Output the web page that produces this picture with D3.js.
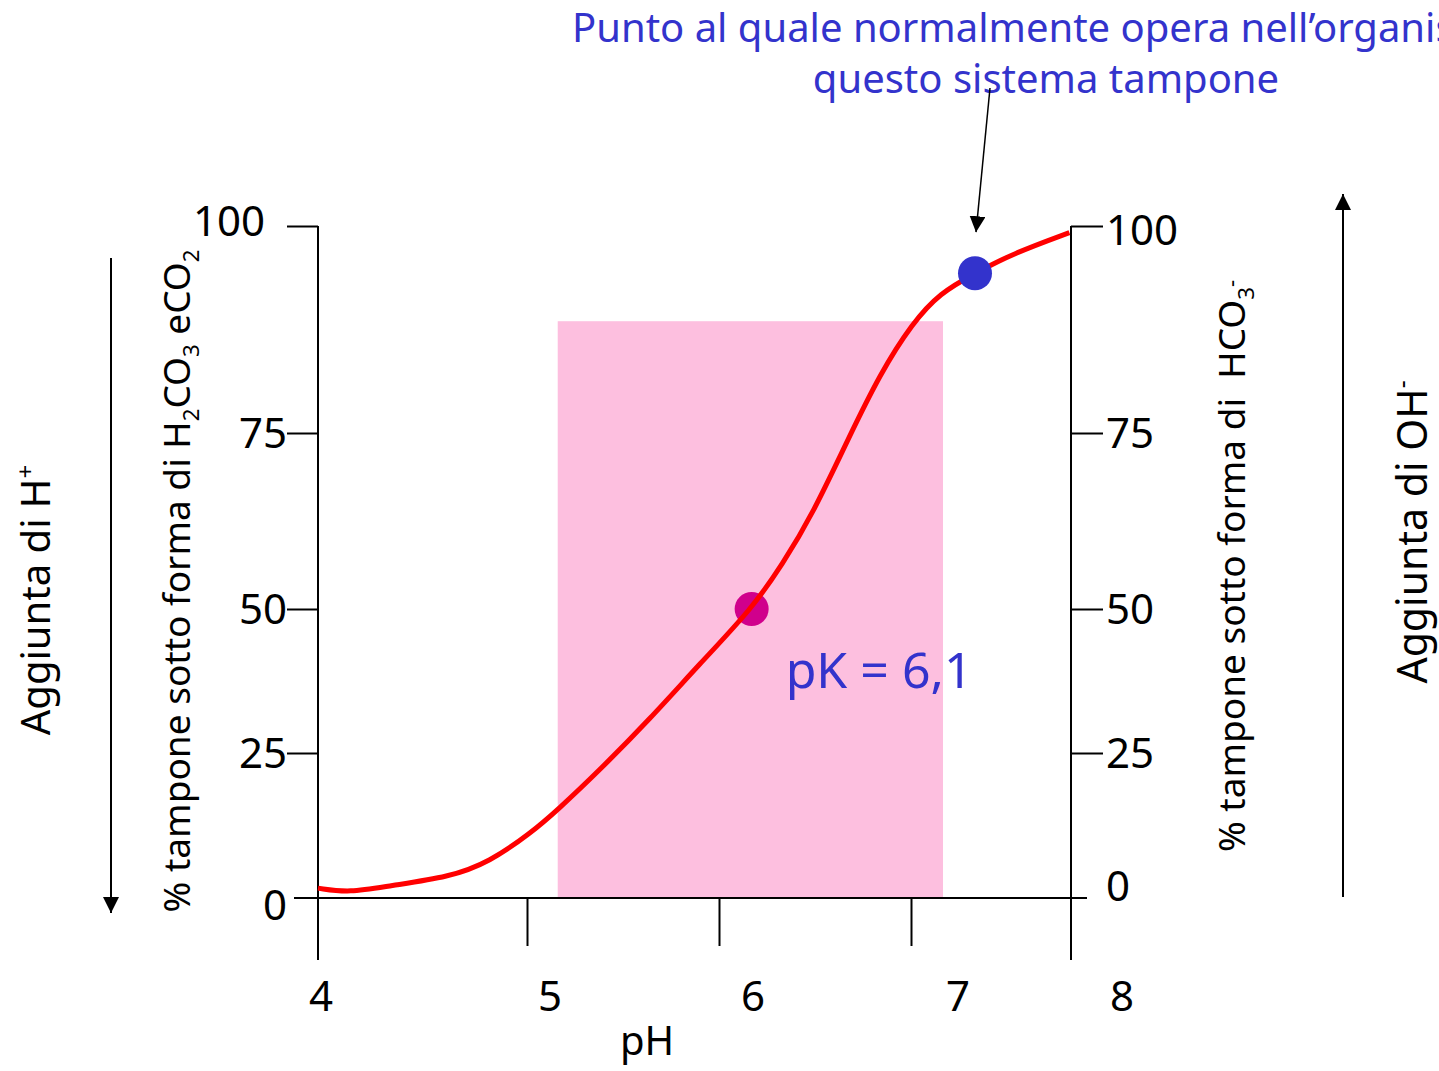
<!DOCTYPE html>
<html>
<head>
<meta charset="utf-8">
<script src="https://cdn.jsdelivr.net/npm/d3@7"></script>
<style>
  body { margin: 0; background: #fff; }
  text { font-family: "Comic Sans MS", "Noto Sans", sans-serif; }
</style>
</head>
<body>
<svg id="svg1"></svg>
<script>
// values (pH, % of buffer)
var phValues  = [4.00, 4.15, 4.34, 4.63, 4.82, 5.02, 5.16, 5.38, 5.64, 5.90, 6.17, 6.33, 6.49, 6.67, 6.84, 7.01, 7.18, 7.40, 7.64, 7.99];
var pctValues = [1.7, 0.9, 2.1, 3.6, 6.2, 11.2, 15.2, 22.1, 30.9, 40.5, 50.0, 56.3, 63.6, 74.0, 82.2, 88.3, 91.9, 94.3, 96.7, 99.2];
var pkPoint = [6.17, 50];            // pK = 6,1
var bodyPoint = [7.40, 94.3];        // normal working point
var bufferZone = [5.16, 7.20, 88.5]; // pH from, pH to, top %
var xTicks = [4, 5, 6, 7, 8];
var yTicks = [0, 25, 50, 75, 100];

var width = 1439, height = 1071;
var svg = d3.select("#svg1").attr("width", width).attr("height", height);

// the drawing is not evenly spaced, so piecewise scales
var x = d3.scaleLinear().domain(xTicks).range([318, 527, 719, 911, 1071]);
var xLab = d3.scaleLinear().domain(xTicks).range([321, 550, 753, 958, 1122]);
var y = d3.scaleLinear().domain(yTicks).range([898, 753, 609, 433, 226]);

var blue = "#3333cc";

svg.append("defs").selectAll("marker")
    .data(["arrow"])
    .join("marker")
    .attr("id", d => d)
    .attr("viewBox", "0 0 10 10")
    .attr("refX", 10).attr("refY", 5)
    .attr("markerUnits", "userSpaceOnUse")
    .attr("markerWidth", 16).attr("markerHeight", 16)
    .attr("orient", "auto")
    .append("path").attr("d", "M0,0L10,5L0,10Z").attr("fill", "#000");

// pink buffer zone
svg.append("rect")
    .attr("x", x(bufferZone[0]))
    .attr("y", y(bufferZone[2]))
    .attr("width", x(bufferZone[1]) - x(bufferZone[0]))
    .attr("height", y(0) - y(bufferZone[2]))
    .attr("fill", "#fdbfdf");

// left axis
var axL = svg.append("g")
    .attr("transform", "translate(" + x(4) + ",0)")
    .call(d3.axisLeft(y).tickValues(yTicks).tickSize(31).tickPadding(0).tickSizeOuter(0));
axL.select(".domain").remove();
axL.selectAll(".tick line").attr("stroke-width", 2).filter(d => d === 0).remove();
axL.selectAll(".tick text")
    .style("font-size", "42px").attr("fill", "#000")
    .attr("dy", d => d === 0 ? "0.5em" : d === 100 ? "0.22em" : "0.35em")
    .attr("x", d => d === 100 ? -53 : -31);

// right axis
var axR = svg.append("g")
    .attr("transform", "translate(" + x(8) + ",0)")
    .call(d3.axisRight(y).tickValues(yTicks).tickSize(32).tickPadding(3).tickSizeOuter(0));
axR.select(".domain").remove();
axR.selectAll(".tick line").attr("stroke-width", 2).filter(d => d === 0).remove();
axR.selectAll(".tick text")
    .style("font-size", "42px").attr("fill", "#000")
    .attr("dy", d => d === 0 ? "0.05em" : d === 100 ? "0.45em" : "0.35em");

// vertical frame lines (go below 0 like the original)
svg.selectAll("line.frame")
    .data([4, 8])
    .join("line")
    .attr("class", "frame")
    .attr("x1", d => x(d)).attr("x2", d => x(d))
    .attr("y1", y(100)).attr("y2", y(0) + 62)
    .attr("stroke", "#000").attr("stroke-width", 2);

// bottom axis
var axB = svg.append("g")
    .attr("transform", "translate(0," + y(0) + ")")
    .call(d3.axisBottom(x).tickValues([5, 6, 7]).tickSize(48).tickFormat("").tickSizeOuter(0));
axB.select(".domain").remove();
axB.selectAll(".tick line").attr("stroke-width", 2);
svg.append("line")
    .attr("x1", x(4) - 24).attr("x2", x(8) + 16)
    .attr("y1", y(0)).attr("y2", y(0))
    .attr("stroke", "#000").attr("stroke-width", 2);

svg.selectAll("text.xlab")
    .data(xTicks)
    .join("text")
    .attr("class", "xlab")
    .attr("x", d => xLab(d))
    .attr("y", y(0) + 113)
    .attr("text-anchor", "middle")
    .style("font-size", "42px")
    .text(d => d);

svg.append("text")
    .attr("x", 647).attr("y", y(0) + 157)
    .attr("text-anchor", "middle")
    .style("font-size", "40px")
    .text("pH");

// pK point, curve, working point
svg.append("circle")
    .attr("cx", x(pkPoint[0])).attr("cy", y(pkPoint[1]))
    .attr("r", 17).attr("fill", "#d0008c");

var lineData = phValues.map((p, i) => [p, pctValues[i]]);
svg.append("path")
    .datum(lineData)
    .attr("d", d3.line().x(d => x(d[0])).y(d => y(d[1])).curve(d3.curveBasis))
    .attr("fill", "none")
    .attr("stroke", "#ff0000")
    .attr("stroke-width", 5);

svg.append("circle")
    .attr("cx", x(bodyPoint[0])).attr("cy", y(bodyPoint[1]))
    .attr("r", 17).attr("fill", blue);

svg.append("text")
    .attr("x", x(pkPoint[0]) + 34).attr("y", y(pkPoint[1]) + 79)
    .attr("fill", blue)
    .style("font-size", "50px")
    .text("pK = 6,1");

// annotation at the top
var note = svg.append("text")
    .attr("fill", blue)
    .style("font-size", "40px");
note.append("tspan").attr("x", 572).attr("y", 42)
    .text("Punto al quale normalmente opera nell\u2019organismo");
note.append("tspan").attr("x", 1046).attr("y", 93).attr("text-anchor", "middle")
    .text("questo sistema tampone");

svg.append("line")
    .attr("x1", 990).attr("y1", 88)
    .attr("x2", x(bodyPoint[0]) + 1).attr("y2", y(bodyPoint[1]) - 41)
    .attr("stroke", "#000").attr("stroke-width", 1.5)
    .attr("marker-end", "url(#arrow)");

// side arrows
svg.append("line")
    .attr("x1", 111).attr("x2", 111).attr("y1", 258).attr("y2", 913)
    .attr("stroke", "#000").attr("stroke-width", 2)
    .attr("marker-end", "url(#arrow)");
svg.append("line")
    .attr("x1", 1343).attr("x2", 1343).attr("y1", 897).attr("y2", 194)
    .attr("stroke", "#000").attr("stroke-width", 2)
    .attr("marker-end", "url(#arrow)");

// rotated labels
function vlabel(cx, cy, size, parts) {
    var t = svg.append("text")
        .attr("transform", "translate(" + cx + "," + cy + ")rotate(-90)")
        .attr("text-anchor", "middle")
        .style("font-size", size + "px");
    parts.forEach(p => {
        var s = t.append("tspan").text(p[0]);
        if (p[1] === "sub") s.style("font-size", (size * 0.6) + "px").attr("dy", size * 0.25);
        if (p[1] === "sup") s.style("font-size", (size * 0.6) + "px").attr("dy", -size * 0.4);
        if (p[1] === "back-sub") s.attr("dy", -size * 0.25);
        if (p[1] === "back-sup") s.attr("dy", size * 0.4);
    });
    return t;
}

vlabel(50, 600, 40, [["Aggiunta di H"], ["+", "sup"]]);
vlabel(190, 581, 37, [["% tampone sotto forma di H"], ["2", "sub"], ["CO", "back-sub"], ["3", "sub"], [" eCO", "back-sub"], ["2", "sub"]]);
vlabel(1245, 566, 37, [["% tampone sotto forma di\u00a0 HCO"], ["3", "sub"], ["-", "sup"]]);
vlabel(1427, 532, 41, [["Aggiunta di OH"], ["-", "sup"]]);
</script>
</body>
</html>
